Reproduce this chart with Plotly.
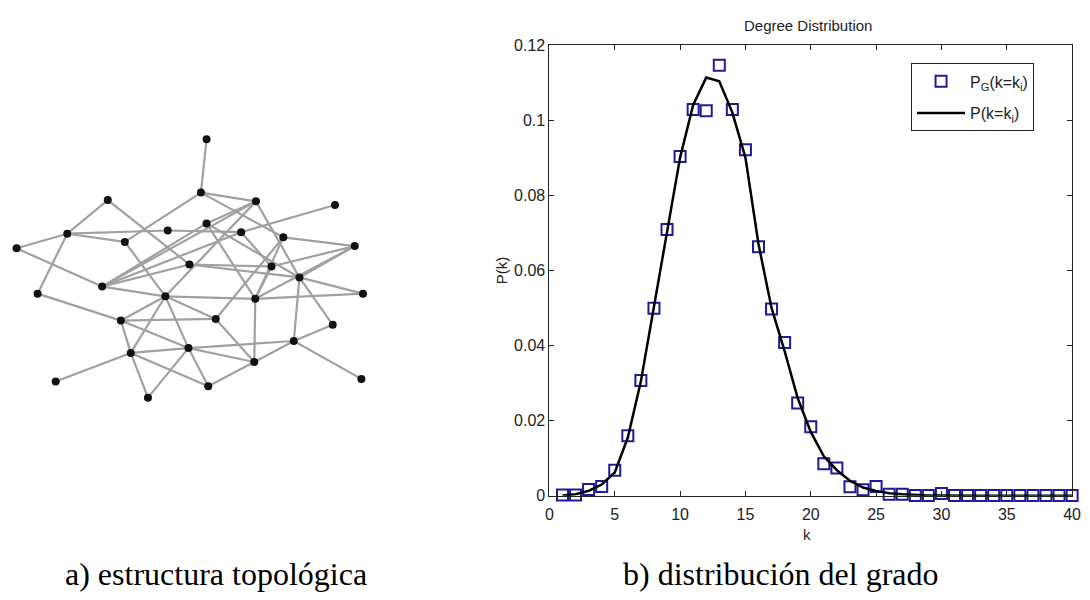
import plotly.graph_objects as go

# ---- (a) network layout: node positions and links ----
node_x = [205, 199.3, 255, 105, 335, 205, 165.7, 240, 64, 122.3, 282.7, 12.7, 355, 187.7, 270.7, 299,
          99.3, 34, 163.3, 254.3, 363.3, 214.3, 118.3, 332.7, 293.3, 186.7, 128.3, 253.3, 52.3, 361.7,
          206.7, 145.7]
node_y = [135, 190, 199, 197.7, 202.7, 221.7, 229, 230.7, 232.3, 240.7, 236, 247.3, 245, 264, 266, 277.3,
          286.7, 294, 296.7, 299.3, 294, 320, 321.7, 326, 342.7, 350, 355, 364.3, 384.3, 381.7,
          389.3, 401]
links = [(1, 2), (2, 3), (2, 10), (2, 11), (3, 6), (3, 16), (3, 17), (3, 19), (4, 9), (4, 14),
         (9, 12), (9, 18), (9, 10), (9, 7), (7, 8), (5, 8), (8, 17), (8, 15), (11, 13), (11, 20),
         (11, 22), (14, 15), (14, 16), (13, 16), (13, 15), (13, 20), (16, 21), (16, 25), (16, 24),
         (15, 20), (19, 20), (20, 21), (17, 19), (17, 14), (17, 6), (17, 12), (19, 23), (19, 22),
         (19, 26), (19, 27), (10, 19), (18, 23), (23, 22), (23, 26), (23, 27), (27, 29), (27, 32),
         (27, 26), (27, 31), (32, 26), (26, 31), (26, 28), (26, 25), (31, 28), (22, 28), (20, 28),
         (25, 28), (25, 24), (25, 30), (6, 20), (6, 16)]

# ---- (b) degree distribution ----
k_values = list(range(1, 41))
p_sim = [0.0002, 0.0002, 0.0017, 0.0025, 0.0068, 0.0160, 0.0307, 0.0499, 0.0709, 0.0903,
         0.1028, 0.1025, 0.1146, 0.1028, 0.0921, 0.0663, 0.0497, 0.0408, 0.0247, 0.0184,
         0.0085, 0.0074, 0.0024, 0.0016, 0.0025, 0.0004, 0.0004, 0.0001, 0.0001, 0.0006,
         0.0001, 0.0001, 0.0001, 0.0001, 0.0001, 0.0001, 0.0001, 0.0001, 0.0001, 0.0001]
p_theory = [0.0001, 0.0004, 0.0013, 0.0030, 0.0062, 0.0155, 0.0305, 0.0500, 0.0705, 0.0900,
            0.1040, 0.1113, 0.1103, 0.1020, 0.0900, 0.0670, 0.0500, 0.0385, 0.0260, 0.0170,
            0.0105, 0.0068, 0.0040, 0.0022, 0.0013, 0.0007, 0.0004, 0.0002, 0.0001, 0.0001,
            0.0000, 0.0000, 0.0000, 0.0000, 0.0000, 0.0000, 0.0000, 0.0000, 0.0000, 0.0000]
y_ticks = [0, 0.02, 0.04, 0.06, 0.08, 0.10, 0.12]
y_tick_text = ["0", "0.02", "0.04", "0.06", "0.08", "0.1", "0.12"]
x_ticks = [0, 5, 10, 15, 20, 25, 30, 35, 40]

W, H = 1090, 600
fig = go.Figure()

# network edges
ex, ey = [], []
for a, b in links:
    ex += [node_x[a - 1], node_x[b - 1], None]
    ey += [node_y[a - 1], node_y[b - 1], None]
fig.add_trace(go.Scatter(x=ex, y=ey, mode="lines", line=dict(color="#a0a0a0", width=2.2),
                         xaxis="x2", yaxis="y2", showlegend=False, hoverinfo="skip"))
fig.add_trace(go.Scatter(x=node_x, y=node_y, mode="markers",
                         marker=dict(color="#111111", size=8),
                         xaxis="x2", yaxis="y2", showlegend=False))

# distribution
fig.add_trace(go.Scatter(x=k_values, y=p_sim, mode="markers", name="P<sub>G</sub>(k=k<sub>i</sub>)",
                         legendgroup="sim",
                         marker=dict(symbol="square-open", size=11, color="#1c1c96",
                                     line=dict(width=2, color="#1c1c96")),
                         cliponaxis=False))
fig.add_trace(go.Scatter(x=k_values, y=p_theory, mode="lines", name="P(k=k<sub>i</sub>)",
                         legendgroup="theory",
                         line=dict(color="black", width=2.5)))

x0, x1 = 552 / W, 1081 / W
y0, y1 = 1 - 502 / H, 1 - 38 / H
axis_font = dict(family="Liberation Sans, Arial, sans-serif", size=16, color="#222222")
label_font = dict(family="Liberation Sans, Arial, sans-serif", size=15, color="#222222")

fig.update_layout(
    width=W, height=H, autosize=False,
    margin=dict(l=0, r=0, t=0, b=0),
    paper_bgcolor="white", plot_bgcolor="white",
    xaxis=dict(domain=[x0, x1], range=[0, 40], tickvals=x_ticks, ticks="inside", ticklen=5,
               showline=True, linecolor="#222222", linewidth=1, mirror="ticks",
               showgrid=False, zeroline=False, tickfont=axis_font, tickcolor="#222222",
               ticklabelstandoff=4),
    yaxis=dict(domain=[y0, y1], range=[0, 0.12], tickvals=y_ticks, ticktext=y_tick_text,
               ticks="inside", ticklen=5, showline=True, linecolor="#222222", linewidth=1,
               mirror="ticks", showgrid=False, zeroline=False, tickfont=axis_font,
               tickcolor="#222222"),
    xaxis2=dict(domain=[0, 380 / W], range=[0, 380], visible=False, anchor="y2"),
    yaxis2=dict(domain=[0, 1], range=[H, 0], visible=False, anchor="x2"),
    legend=dict(x=918 / W, y=1 - 57 / H, xanchor="left", yanchor="top",
                bgcolor="white", bordercolor="#222222", borderwidth=1,
                itemwidth=48, tracegroupgap=8,
                font=dict(family="Liberation Sans, Arial, sans-serif", size=16, color="#222222")),
    font=axis_font,
)

serif = dict(family="Liberation Serif, Times New Roman, serif", size=32, color="black")
fig.add_annotation(x=814 / W, y=1 - 18 / H, xref="paper", yref="paper", text="Degree Distribution",
                   showarrow=False, font=label_font, xanchor="center", yanchor="middle")
fig.add_annotation(x=813 / W, y=1 - 542 / H, xref="paper", yref="paper", text="k",
                   showarrow=False, font=label_font, xanchor="center", yanchor="middle")
fig.add_annotation(x=503 / W, y=1 - 270 / H, xref="paper", yref="paper", text="P(k)", textangle=-90,
                   showarrow=False, font=label_font, xanchor="center", yanchor="middle")
fig.add_annotation(x=60 / W, y=1 - 583 / H, xref="paper", yref="paper", text="a) estructura topológica",
                   showarrow=False, font=serif, xanchor="left", yanchor="middle")
fig.add_annotation(x=624 / W, y=1 - 583 / H, xref="paper", yref="paper", text="b) distribución del grado",
                   showarrow=False, font=serif, xanchor="left", yanchor="middle")

fig.write_html("out.html")
